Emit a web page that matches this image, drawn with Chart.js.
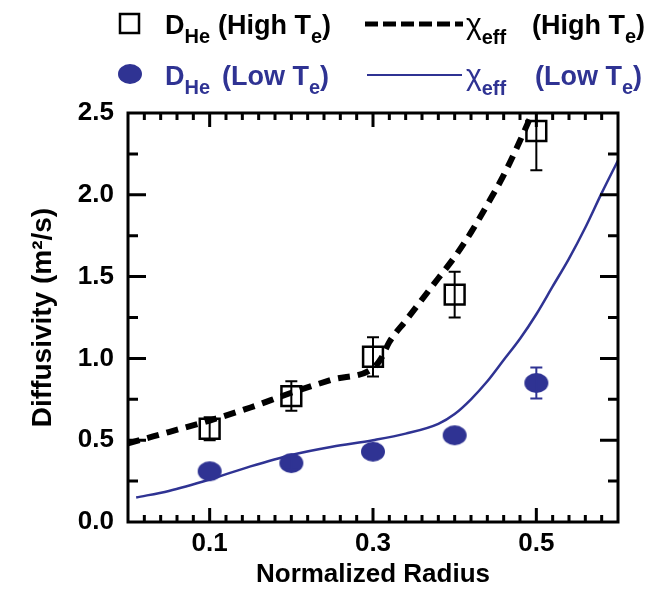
<!DOCTYPE html>
<html>
<head>
<meta charset="utf-8">
<title>Diffusivity vs Normalized Radius</title>
<script src="https://cdn.jsdelivr.net/npm/chart.js@4"></script>
<style>
    html, body { margin: 0; padding: 0; background: #fff; }
    #wrap { width: 656px; height: 593px; }
</style>
</head>
<body>
<div id="wrap"><canvas id="diffChart" width="656" height="593"></canvas></div>
<script>
// ============================================
// DATA
// ============================================

const radius = [0.1, 0.2, 0.3, 0.4, 0.5];
const dHeHigh = [0.57, 0.77, 1.01, 1.39, 2.39];
const dHeHighErr = [0.07, 0.09, 0.12, 0.14, 0.24];
const dHeLow = [0.31, 0.36, 0.43, 0.53, 0.85];
const dHeLowErr = [0, 0.04, 0, 0, 0.095];

const chiHighR = [0, 0.05, 0.1, 0.15, 0.2, 0.25, 0.3, 0.31, 0.32, 0.34, 0.36, 0.38, 0.4, 0.42, 0.44, 0.46, 0.48, 0.495];
const chiHigh  = [0.48, 0.55, 0.62, 0.70, 0.79, 0.87, 0.94, 1.0, 1.10, 1.23, 1.36, 1.49, 1.62, 1.77, 1.94, 2.12, 2.33, 2.5];

const chiLowR = [0.01, 0.05, 0.1, 0.15, 0.2, 0.25, 0.3, 0.34, 0.38, 0.4, 0.42, 0.44, 0.46, 0.48, 0.5, 0.52, 0.54, 0.56, 0.58, 0.6];
const chiLow  = [0.15, 0.19, 0.26, 0.34, 0.41, 0.46, 0.50, 0.54, 0.60, 0.66, 0.75, 0.86, 0.99, 1.12, 1.27, 1.44, 1.61, 1.80, 2.01, 2.21];

const xTickValues = [0.1, 0.3, 0.5];

const BLUE = '#2f3393';
const FONT = "'Liberation Sans', Arial, sans-serif";

const pts = (xs, ys) => xs.map((x, i) => ({ x: x, y: ys[i] }));

// filled ellipse used as the low Te marker
const ellipse = document.createElement('canvas');
ellipse.width = 26;
ellipse.height = 22;
(function () {
    const c = ellipse.getContext('2d');
    c.fillStyle = BLUE;
    c.beginPath();
    c.ellipse(13, 11, 12, 10, 0, 0, Math.PI * 2);
    c.fill();
})();

// ============================================
// PLUGINS: error bars, frame with inward ticks, legend
// ============================================

const errorBars = {
    id: 'errorBars',
    afterDatasetsDraw(chart) {
        const { ctx, chartArea: a, scales: { x, y } } = chart;
        ctx.save();
        ctx.beginPath();
        ctx.rect(a.left, a.top, a.right - a.left, a.bottom - a.top);
        ctx.clip();
        const draw = (vals, errs, color) => {
            ctx.strokeStyle = color;
            ctx.lineWidth = 2;
            radius.forEach((r, i) => {
                if (!errs[i]) return;
                const px = x.getPixelForValue(r);
                const y1 = y.getPixelForValue(vals[i] + errs[i]);
                const y2 = y.getPixelForValue(vals[i] - errs[i]);
                ctx.beginPath();
                ctx.moveTo(px, y1); ctx.lineTo(px, y2);
                ctx.moveTo(px - 6, y1); ctx.lineTo(px + 6, y1);
                ctx.moveTo(px - 6, y2); ctx.lineTo(px + 6, y2);
                ctx.stroke();
            });
        };
        draw(dHeHigh, dHeHighErr, '#000');
        draw(dHeLow, dHeLowErr, BLUE);
        ctx.restore();
    }
};

const frame = {
    id: 'frame',
    afterDatasetsDraw(chart) {
        const { ctx, chartArea: a, scales: { x, y } } = chart;
        ctx.save();
        ctx.strokeStyle = '#000';
        ctx.lineWidth = 3;
        ctx.strokeRect(a.left, a.top, a.right - a.left, a.bottom - a.top);
        ctx.beginPath();
        for (let i = 1; i < 30; i++) {
            const px = x.getPixelForValue(i * 0.02);
            const len = (i === 5 || i === 15 || i === 25) ? 14 : 7;
            ctx.moveTo(px, a.bottom); ctx.lineTo(px, a.bottom - len);
            ctx.moveTo(px, a.top); ctx.lineTo(px, a.top + len);
        }
        for (let j = 1; j < 10; j++) {
            const py = y.getPixelForValue(j * 0.25);
            const len = (j % 2 === 0) ? 18 : 10;
            ctx.moveTo(a.left, py); ctx.lineTo(a.left + len, py);
            ctx.moveTo(a.right, py); ctx.lineTo(a.right - len, py);
        }
        ctx.stroke();
        ctx.restore();
    }
};

// writes text with subscripts, parts = [text, size, drop, weight]
function richText(ctx, x, y, parts) {
    parts.forEach(([t, size, drop, weight]) => {
        ctx.font = `${weight || 'bold'} ${size}px ${FONT}`;
        ctx.fillText(t, x, y + drop);
        x += ctx.measureText(t).width;
    });
}

const legendBox = {
    id: 'legendBox',
    afterDraw(chart) {
        const ctx = chart.ctx;
        ctx.save();
        ctx.textBaseline = 'alphabetic';

        // row 1 : high Te
        ctx.strokeStyle = '#000';
        ctx.lineWidth = 2.5;
        ctx.strokeRect(120, 14, 19, 19);
        ctx.fillStyle = '#000';
        richText(ctx, 165, 34, [['D', 27, 0], ['He', 20, 9]]);
        richText(ctx, 218, 34, [['(High T', 27, 0], ['e', 20, 9], [')', 27, 0]]);
        ctx.lineWidth = 5;
        ctx.setLineDash([13, 5]);
        ctx.beginPath(); ctx.moveTo(365, 24); ctx.lineTo(463, 24); ctx.stroke();
        ctx.setLineDash([]);
        richText(ctx, 466, 34, [['\u03c7', 30, 0, 'normal'], ['eff', 20, 10]]);
        richText(ctx, 532, 34, [['(High T', 27, 0], ['e', 20, 9], [')', 27, 0]]);

        // row 2 : low Te
        ctx.drawImage(ellipse, 117, 63);
        ctx.fillStyle = BLUE;
        ctx.strokeStyle = BLUE;
        richText(ctx, 165, 85, [['D', 27, 0], ['He', 20, 9]]);
        richText(ctx, 222, 85, [['(Low T', 27, 0], ['e', 20, 9], [')', 27, 0]]);
        ctx.lineWidth = 2;
        ctx.beginPath(); ctx.moveTo(367, 75); ctx.lineTo(462, 75); ctx.stroke();
        richText(ctx, 466, 85, [['\u03c7', 30, 0, 'normal'], ['eff', 20, 10]]);
        richText(ctx, 535, 85, [['(Low T', 27, 0], ['e', 20, 9], [')', 27, 0]]);
        ctx.restore();
    }
};

// ============================================
// CHART
// ============================================

const ctx = document.getElementById('diffChart').getContext('2d');
new Chart(ctx, {
    type: 'scatter',
    data: {
        datasets: [
            {
                label: 'D_He (High Te)',
                data: pts(radius, dHeHigh),
                pointStyle: 'rect',
                pointRadius: 14,
                borderWidth: 2.5,
                borderColor: '#000',
                backgroundColor: 'rgba(0,0,0,0)'
            },
            {
                label: 'D_He (Low Te)',
                data: pts(radius, dHeLow),
                pointStyle: ellipse,
                pointRadius: 12
            },
            {
                label: 'chi_eff (High Te)',
                data: pts(chiHighR, chiHigh),
                showLine: true,
                pointRadius: 0,
                borderColor: '#000',
                borderWidth: 6,
                borderDash: [12, 8],
                cubicInterpolationMode: 'monotone'
            },
            {
                label: 'chi_eff (Low Te)',
                data: pts(chiLowR, chiLow),
                showLine: true,
                pointRadius: 0,
                borderColor: BLUE,
                borderWidth: 2.5,
                cubicInterpolationMode: 'monotone'
            }
        ]
    },
    options: {
        responsive: false,
        animation: false,
        events: [],
        layout: { padding: { top: 113, right: 38, left: 0, bottom: 0 } },
        plugins: {
            legend: { display: false },
            tooltip: { enabled: false }
        },
        scales: {
            x: {
                type: 'linear',
                min: 0,
                max: 0.6,
                afterBuildTicks: s => { s.ticks = xTickValues.map(v => ({ value: v })); },
                afterFit: s => { s.height = 71; },
                ticks: {
                    color: '#000',
                    padding: 6,
                    maxRotation: 0,
                    font: { family: FONT, size: 26, weight: 'bold' },
                    callback: v => v.toFixed(1)
                },
                grid: { display: false, drawTicks: false },
                border: { display: false },
                title: {
                    display: true,
                    text: 'Normalized Radius',
                    color: '#000',
                    font: { family: FONT, size: 26, weight: 'bold' },
                    padding: { top: 0, bottom: 3 }
                }
            },
            y: {
                min: 0,
                max: 2.5,
                afterFit: s => { s.width = 128; },
                ticks: {
                    stepSize: 0.5,
                    color: '#000',
                    padding: 14,
                    font: { family: FONT, size: 26, weight: 'bold' },
                    callback: v => v.toFixed(1)
                },
                grid: { display: false, drawTicks: false },
                border: { display: false },
                title: {
                    display: true,
                    text: 'Diffusivity (m\u00b2/s)',
                    color: '#000',
                    font: { family: FONT, size: 28, weight: 'bold' },
                    padding: { top: 26, bottom: 0 }
                }
            }
        }
    },
    plugins: [errorBars, frame, legendBox]
});
</script>
</body>
</html>
